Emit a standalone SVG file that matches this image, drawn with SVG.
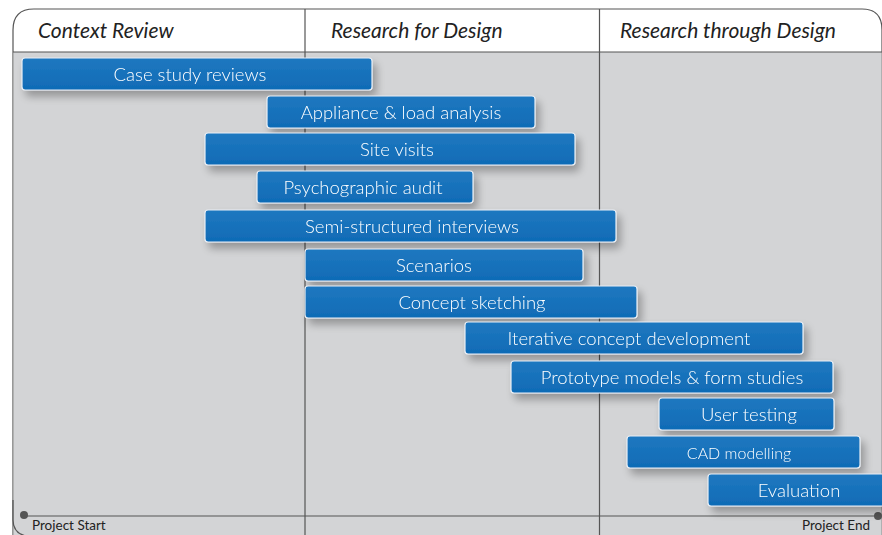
<svg xmlns="http://www.w3.org/2000/svg" width="882" height="535" viewBox="0 0 882 535">
<defs>
<filter id="sh" x="-10%" y="-30%" width="125%" height="190%">
<feGaussianBlur in="SourceAlpha" stdDeviation="4"/>
<feOffset dx="4" dy="6" result="b"/>
<feComponentTransfer><feFuncA type="linear" slope="0.3"/></feComponentTransfer>
<feMerge><feMergeNode/><feMergeNode in="SourceGraphic"/></feMerge>
</filter>
<linearGradient id="bg" x1="0" y1="0" x2="0" y2="1">
<stop offset="0" stop-color="#1f78c0"/>
<stop offset="1" stop-color="#0f6bb6"/>
</linearGradient>
</defs>
<style>
.bar{fill:url(#bg);stroke:#e8eef5;stroke-width:1.2}
.lbl{font-family:Lato,"Open Sans","Liberation Sans",sans-serif;font-weight:300;font-size:18.5px;fill:#ffffff;text-anchor:middle;dominant-baseline:central}
.hdr{font-family:Lato,"Open Sans","Liberation Sans",sans-serif;font-style:italic;font-size:21px;fill:#222}
.ft{font-family:Lato,"Open Sans","Liberation Sans",sans-serif;font-size:13.5px;fill:#222}
.ln{stroke:#555;stroke-width:1.2;fill:none}
</style>
<rect width="882" height="535" fill="#ffffff"/>
<g id="frame">
<path d="M13,560 L13,30 Q13,9 34,9 L862,9 Q882,9 882,30 L882,560 Z" fill="#ffffff" stroke="#555" stroke-width="1.2"/>
<path d="M13.6,52 L881.4,52 L881.4,535 L13.6,535 Z" fill="#d3d4d6"/>
<path d="M13,500 L13,520 Q13,533 26,536" class="ln"/>
<line x1="13" y1="52" x2="882" y2="52" class="ln"/>
<line x1="305" y1="9" x2="305" y2="535" class="ln"/>
<line x1="599.5" y1="9" x2="599.5" y2="535" class="ln"/>
<text x="38" y="38" class="hdr">Context Review</text>
<text x="331" y="38" class="hdr">Research for Design</text>
<text x="620" y="38" class="hdr">Research through Design</text>
</g>
<g id="timeline">
<line x1="24" y1="516" x2="878" y2="516" stroke="#555" stroke-width="1.2"/>
<circle cx="24" cy="515" r="4" fill="#555"/>
<circle cx="878" cy="516" r="4" fill="#555"/>
<text x="32" y="530" class="ft">Project Start</text>
<text x="870" y="530" class="ft" text-anchor="end">Project End</text>
</g>
<g id="n1" filter="url(#sh)"><rect class="bar" x="22" y="58" width="350" height="32" rx="3"/><text class="lbl" x="190" y="74">Case study reviews</text></g>
<g id="n2" filter="url(#sh)"><rect class="bar" x="267" y="96" width="268" height="32" rx="3"/><text class="lbl" x="401" y="112">Appliance &amp; load analysis</text></g>
<g id="n3" filter="url(#sh)"><rect class="bar" x="205" y="133" width="370" height="32" rx="3"/><text class="lbl" x="397" y="149">Site visits</text></g>
<g id="n4" filter="url(#sh)"><rect class="bar" x="257" y="171" width="216" height="32" rx="3"/><text class="lbl" x="363" y="187">Psychographic audit</text></g>
<g id="n5" filter="url(#sh)"><rect class="bar" x="205" y="210" width="411" height="32" rx="3"/><text class="lbl" x="412" y="226">Semi-structured interviews</text></g>
<g id="n6" filter="url(#sh)"><rect class="bar" x="305" y="249" width="278" height="32" rx="3"/><text class="lbl" x="434" y="265">Scenarios</text></g>
<g id="n7" filter="url(#sh)"><rect class="bar" x="305" y="286" width="332" height="32" rx="3"/><text class="lbl" x="472" y="302">Concept sketching</text></g>
<g id="n8" filter="url(#sh)"><rect class="bar" x="465" y="322" width="338" height="32" rx="3"/><text class="lbl" x="629" y="338">Iterative concept development</text></g>
<g id="n9" filter="url(#sh)"><rect class="bar" x="511" y="361" width="322" height="32" rx="3"/><text class="lbl" x="672" y="377">Prototype models &amp; form studies</text></g>
<g id="n10" filter="url(#sh)"><rect class="bar" x="659" y="398" width="175" height="32" rx="3"/><text class="lbl" x="749" y="414">User testing</text></g>
<g id="n11" filter="url(#sh)"><rect class="bar" x="627" y="436" width="233" height="32" rx="3"/><text class="lbl" x="739" y="452" style="font-size:16px">CAD modelling</text></g>
<g id="n12" filter="url(#sh)"><rect class="bar" x="708" y="474" width="178" height="32" rx="3"/><text class="lbl" x="799" y="490">Evaluation</text></g>
</svg>
